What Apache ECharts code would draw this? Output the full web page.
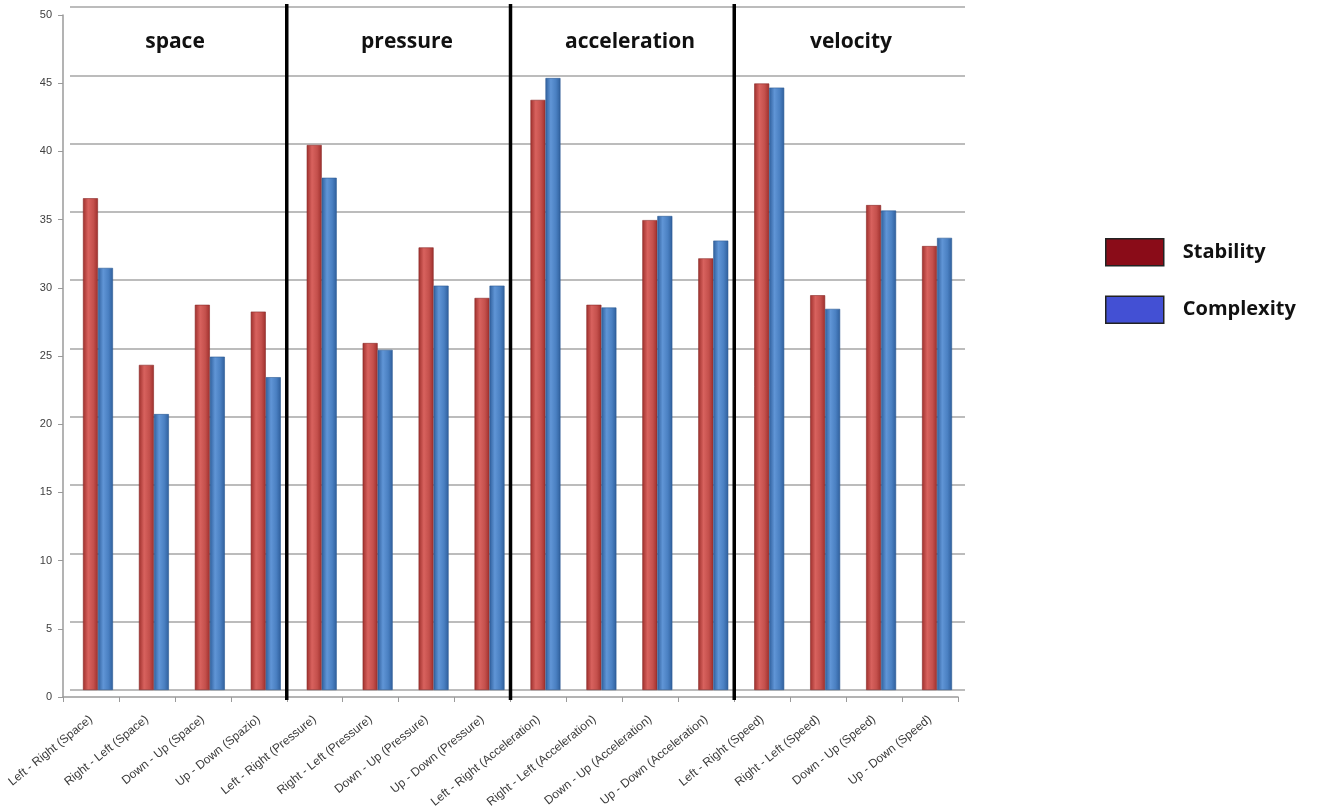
<!DOCTYPE html>
<html>
<head>
<meta charset="utf-8">
<script src="https://cdn.jsdelivr.net/npm/echarts@6/dist/echarts.min.js"></script>
<style>
  html, body { margin: 0; padding: 0; background: #fff; }
  #chart { width: 1322px; height: 811px; }
</style>
</head>
<body>
<div id="chart"></div>
<script>
// Movement directions, four per quantity
const categories = [
  'Left - Right (Space)', 'Right - Left (Space)', 'Down - Up (Space)', 'Up - Down (Spazio)',
  'Left - Right (Pressure)', 'Right - Left (Pressure)', 'Down - Up (Pressure)', 'Up - Down (Pressure)',
  'Left - Right (Acceleration)', 'Right - Left (Acceleration)', 'Down - Up (Acceleration)', 'Up - Down (Acceleration)',
  'Left - Right (Speed)', 'Right - Left (Speed)', 'Down - Up (Speed)', 'Up - Down (Speed)'
];
const groupNames = ['space', 'pressure', 'acceleration', 'velocity'];
const stability  = [36.0, 23.8, 28.2, 27.7, 39.9, 25.4, 32.4, 28.7, 43.2, 28.2, 34.4, 31.6, 44.4, 28.9, 35.5, 32.5];
const complexity = [30.9, 20.2, 24.4, 22.9, 37.5, 24.9, 29.6, 29.6, 44.8, 28.0, 34.7, 32.9, 44.1, 27.9, 35.1, 33.1];
const yTicks = { min: 0, max: 50, interval: 5 };
const groupSize = 4;

// first category index of every group after the first
const groupStarts = [];
for (let i = groupSize; i < categories.length; i += groupSize) groupStarts.push([i, 0]);

const chart = echarts.init(document.getElementById('chart'));

// Cylinder-like shading across each column
function shade(dark, light, mid) {
  return new echarts.graphic.LinearGradient(0, 0, 1, 0, [
    { offset: 0, color: dark },
    { offset: 0.35, color: light },
    { offset: 0.7, color: mid },
    { offset: 1, color: dark }
  ]);
}

const font = 'Liberation Sans, Arial, sans-serif';
const titleX = [175, 407, 630, 851];

chart.setOption({
  animation: false,
  backgroundColor: '#fff',
  grid: [
    // front plane: axes, ticks, labels and group separators
    { left: 63, right: 364, top: 15, bottom: 114 },
    // back wall: gridlines and columns
    { left: 70, right: 357, top: 7, bottom: 121 }
  ],
  xAxis: [
    {
      gridIndex: 0, type: 'category', data: categories, boundaryGap: true,
      axisLine: { show: true, lineStyle: { color: '#9a9a9a', width: 1.5 } },
      axisTick: { show: true, length: 5, lineStyle: { color: '#9a9a9a' } },
      axisLabel: { rotate: 39, interval: 0, margin: 21, color: '#3a3a3a', fontSize: 12, fontFamily: font },
      splitLine: { show: false }
    },
    {
      gridIndex: 1, type: 'category', data: categories, boundaryGap: true,
      axisLine: { show: false }, axisTick: { show: false }, axisLabel: { show: false }
    }
  ],
  yAxis: [
    {
      gridIndex: 0, type: 'value', min: yTicks.min, max: yTicks.max, interval: yTicks.interval,
      axisLine: { show: true, lineStyle: { color: '#9a9a9a', width: 1.5 } },
      axisTick: { show: true, length: 5, lineStyle: { color: '#9a9a9a' } },
      axisLabel: { color: '#404040', fontSize: 11, fontFamily: font, margin: 11 },
      splitLine: { show: false }
    },
    {
      gridIndex: 1, type: 'value', min: yTicks.min, max: yTicks.max, interval: yTicks.interval,
      axisLine: { show: false }, axisTick: { show: false }, axisLabel: { show: false },
      splitLine: { show: true, lineStyle: { color: '#a6a6a6', width: 1.5 } }
    }
  ],
  legend: {
    orient: 'vertical',
    left: 1100, top: 233,
    itemWidth: 58, itemHeight: 27, itemGap: 29,
    icon: 'rect',
    textStyle: { fontSize: 20, fontWeight: 'bold', color: '#111', fontFamily: 'Open Sans, sans-serif', padding: [0, 0, 0, 14] },
    data: [
      { name: 'Stability', itemStyle: { color: '#8a0c18', borderColor: '#222', borderWidth: 1.5 } },
      { name: 'Complexity', itemStyle: { color: '#4350d4', borderColor: '#222', borderWidth: 1.5 } }
    ]
  },
  graphic: groupNames.map((name, i) => ({
    type: 'text',
    x: titleX[i], y: 42,
    style: {
      text: name, align: 'center', verticalAlign: 'middle',
      font: 'bold 21px "Open Sans", sans-serif', fill: '#111'
    }
  })),
  series: [
    {
      name: 'Stability', type: 'bar', xAxisIndex: 1, yAxisIndex: 1,
      data: stability, barWidth: 15, barGap: '0%',
      itemStyle: { color: shade('#9e2f2c', '#d8625e', '#c4504c'), borderColor: '#8a2a28', borderWidth: 0.6 }
    },
    {
      name: 'Complexity', type: 'bar', xAxisIndex: 1, yAxisIndex: 1,
      data: complexity, barWidth: 15, barGap: '0%',
      itemStyle: { color: shade('#2f5f9c', '#6095d6', '#4a80c2'), borderColor: '#2c5a94', borderWidth: 0.6 }
    },
    {
      // heavy vertical rules between the four groups
      name: 'separators', type: 'custom', xAxisIndex: 0, yAxisIndex: 0,
      data: groupStarts, silent: true, z: 10,
      renderItem: function (params, api) {
        const c = api.coord([api.value(0), 0]);
        const band = api.size([1, 0])[0];
        const x = c[0] - band / 2;
        const cs = params.coordSys;
        return {
          type: 'line',
          shape: { x1: x, y1: cs.y - 11, x2: x, y2: cs.y + cs.height + 3 },
          style: { stroke: '#000', lineWidth: 3.5 }
        };
      }
    }
  ]
});
</script>
</body>
</html>
